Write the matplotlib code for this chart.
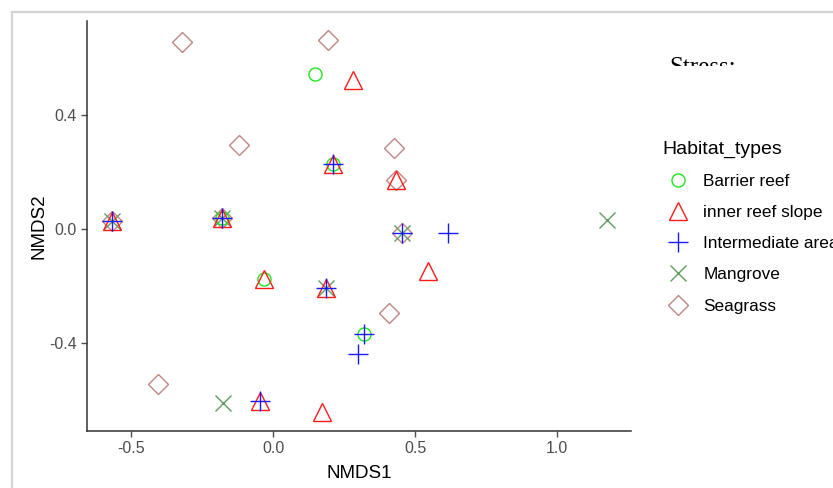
import matplotlib
matplotlib.use("Agg")
import matplotlib.pyplot as plt
from matplotlib.lines import Line2D
from matplotlib.transforms import Bbox

plt.rcParams["font.family"] = ["Liberation Sans", "DejaVu Sans"]
plt.rcParams["axes.unicode_minus"] = False

# NMDS site scores per habitat type
barrier_x = [0.148, -0.180, 0.211, -0.032, 0.320]
barrier_y = [0.542, 0.038, 0.227, -0.175, -0.367]

inner_x = [0.282, -0.567, -0.180, 0.211, 0.433, -0.032, 0.187, 0.546, -0.046, 0.173]
inner_y = [0.521, 0.028, 0.038, 0.227, 0.171, -0.175, -0.206, -0.147, -0.601, -0.638]

inter_x = [-0.567, -0.180, 0.211, 0.455, 0.616, 0.187, 0.320, 0.300, -0.046]
inter_y = [0.028, 0.038, 0.227, -0.013, -0.014, -0.206, -0.367, -0.437, -0.601]

mangrove_x = [-0.567, -0.180, 0.455, 0.187, 1.176, -0.176]
mangrove_y = [0.028, 0.038, -0.013, -0.206, 0.031, -0.609]

seagrass_x = [-0.320, 0.194, -0.120, 0.426, 0.408, -0.405, -0.567, -0.180, 0.433, 0.455]
seagrass_y = [0.654, 0.661, 0.294, 0.283, -0.294, -0.542, 0.028, 0.038, 0.171, -0.013]

habitats = ["Barrier reef", "inner reef slope", "Intermediate area", "Mangrove", "Seagrass"]

W, H = 833, 488
fig = plt.figure(figsize=(W / 100, H / 100), dpi=100)
ax = fig.add_axes([87 / W, 1 - 431 / H, (631 - 87) / W, (431 - 21) / H])

# marker style per habitat: (marker, colour, size)
styles = {
    "Barrier reef": ("o", "#1ee81e", 9.4),
    "inner reef slope": ("^", "#ff1a1a", 13.0),
    "Intermediate area": ("+", "#1a1aff", 13.7),
    "Mangrove": ("x", "#5e9e5e", 11.5),
    "Seagrass": ("D", "#c08585", 10.5),
}
data = {
    "Barrier reef": (barrier_x, barrier_y),
    "inner reef slope": (inner_x, inner_y),
    "Intermediate area": (inter_x, inter_y),
    "Mangrove": (mangrove_x, mangrove_y),
    "Seagrass": (seagrass_x, seagrass_y),
}

for name in ["Seagrass", "Mangrove", "Barrier reef", "inner reef slope", "Intermediate area"]:
    m, c, s = styles[name]
    xs, ys = data[name]
    ax.plot(xs, ys, linestyle="none", marker=m, markersize=s,
            markerfacecolor="none", markeredgecolor=c, markeredgewidth=1.0)

ax.set_xlim(-0.655, 1.26)
ax.set_ylim(-0.706, 0.727)
ax.set_xticks([-0.5, 0.0, 0.5, 1.0])
ax.set_yticks([-0.4, 0.0, 0.4])
ax.tick_params(colors="#4d4d4d", labelsize=11.5, length=4, width=1.0)
for side in ["top", "right"]:
    ax.spines[side].set_visible(False)
for side in ["left", "bottom"]:
    ax.spines[side].set_color("#333333")
    ax.spines[side].set_linewidth(1.1)
ax.set_xlabel("NMDS1", fontsize=13.5, color="black", labelpad=6)
ax.set_ylabel("NMDS2", fontsize=13.5, color="black", labelpad=1)

handles = []
for name in habitats:
    m, c, s = styles[name]
    handles.append(Line2D([], [], linestyle="none", marker=m, markersize=s,
                          markerfacecolor="none", markeredgecolor=c,
                          markeredgewidth=1.0, label=name))
leg = ax.legend(handles=handles, title="Habitat_types", loc="upper left",
                bbox_to_anchor=(662 / W, 1 - 141 / H), bbox_transform=fig.transFigure,
                frameon=False, fontsize=12.4, title_fontsize=14,
                borderpad=0, borderaxespad=0, handlelength=1.85,
                handletextpad=0.55, labelspacing=0.93)
leg._legend_box.align = "left"

# stress annotation, partly hidden behind the viewer bar
st = fig.text(669 / W, 1 - 74 / H, "Stress:", family="Liberation Serif",
              fontsize=18, color="black", va="baseline", ha="left")
st.set_clip_box(Bbox([[0, H - 66], [W, H]]))
st.set_clip_on(True)

# window frame
fig.add_artist(Line2D([12 / W, 12 / W], [0, 1 - 12 / H], color="#d4d4d4", lw=1.6))
fig.add_artist(Line2D([12 / W, 1], [1 - 12 / H, 1 - 12 / H], color="#d4d4d4", lw=1.6))

fig.savefig("out.png", dpi=100)
